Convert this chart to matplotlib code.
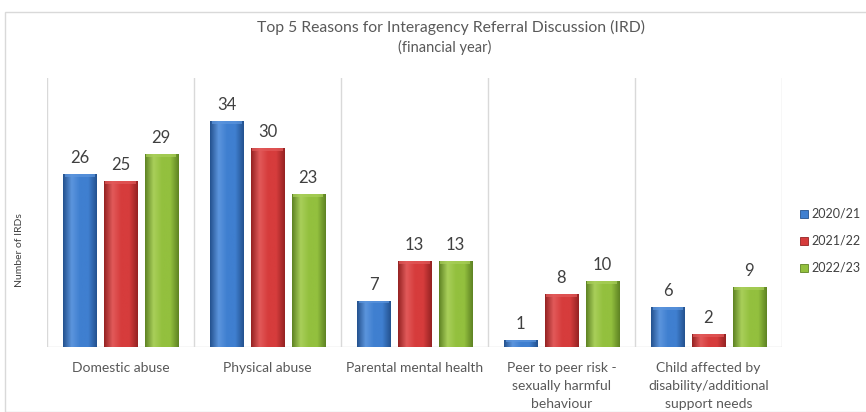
import matplotlib
matplotlib.use("Agg")
import matplotlib.pyplot as plt
import numpy as np
from matplotlib.patches import Rectangle
from matplotlib.colors import LinearSegmentedColormap

categories = ["Domestic abuse", "Physical abuse", "Parental mental health",
              "Peer to peer risk -\nsexually harmful\nbehaviour",
              "Child affected by\ndisability/additional\nsupport needs"]
series_names = ["2020/21", "2021/22", "2022/23"]
v2021 = [26, 34, 7, 1, 6]
v2122 = [25, 30, 13, 8, 2]
v2223 = [29, 23, 13, 10, 9]
values = [v2021, v2122, v2223]

base_cols = ["#3f7fd0", "#d63c3c", "#93c03e"]
dark_cols = ["#24528f", "#952323", "#5f8424"]
light_cols = ["#5c95dd", "#e25a5a", "#a9cf5a"]

plt.rcParams['font.family'] = ['Lato', 'DejaVu Sans']
fig = plt.figure(figsize=(8.66, 4.12), dpi=100)
ax = fig.add_axes([47/866, 1-347/412, (782-47)/866, (347-78)/412])

n = len(categories)
x = np.arange(n)
width = 0.225
step = 0.277
ax.set_xlim(-0.5, n-0.5)
ax.set_ylim(0, 40.5)

grad = np.linspace(0, 1, 64).reshape(1, -1)
for i, (vals, name) in enumerate(zip(values, series_names)):
    pos = x + (i-1)*step
    bars = ax.bar(pos, vals, width, color=base_cols[i], edgecolor=dark_cols[i],
                  linewidth=0.6, label=name, zorder=3)
    cmap = LinearSegmentedColormap.from_list("g", [dark_cols[i], light_cols[i], base_cols[i], base_cols[i], dark_cols[i]])
    for b, v in zip(bars, vals):
        x0 = b.get_x()
        im = ax.imshow(grad, extent=[x0, x0+width, 0, v], aspect='auto', cmap=cmap, zorder=4)
        im.set_clip_path(b)
        cap = min(0.45, v*0.3)
        ax.add_patch(Rectangle((x0+0.01, v-cap), width-0.02, cap, facecolor=light_cols[i],
                               edgecolor='none', alpha=0.7, zorder=5))
        ax.text(b.get_x()+width/2, v+1.2, str(v), ha='center', va='bottom',
                fontsize=12, color='#404040', zorder=6)

for s in ax.spines.values():
    s.set_visible(False)
ax.axhline(0, color='#d9d9d9', lw=1, zorder=2)
for xv in np.arange(-0.5, n, 1.0):
    ax.axvline(xv, color='#d9d9d9', lw=1, zorder=1)
ax.set_yticks([])
ax.set_xticks([])
for xi, c in zip(x, categories):
    ax.text(xi, -2.2, c, ha='center', va='top', fontsize=10, color='#595959',
            linespacing=1.6)

fig.text(20/866, 1-250/412, "Number of IRDs", rotation=90, ha='center', va='center',
         fontsize=7.5, color='#404040')
fig.text(451/866, 1-27/412, "Top 5 Reasons for Interagency Referral Discussion (IRD)",
         ha='center', va='center', fontsize=11.3, color='#595959')
fig.text(445/866, 1-47/412, "(financial year)", ha='center', va='center',
         fontsize=10.5, color='#595959')

handles = [Rectangle((0, 0), 1, 1, facecolor=base_cols[i], edgecolor=dark_cols[i], lw=0.6)
           for i in range(3)]
fig.legend(handles, series_names, loc='center left', bbox_to_anchor=(789/866, 1-241/412),
           frameon=False, fontsize=9, labelcolor='#404040', handlelength=0.6,
           handleheight=0.6, handletextpad=0.3, labelspacing=1.2)

fig.add_artist(Rectangle((5/866, 0), 1.0, 1-12/412, transform=fig.transFigure,
                         fill=False, edgecolor='#d9d9d9', lw=1))
fig.savefig("out.png", dpi=100)
